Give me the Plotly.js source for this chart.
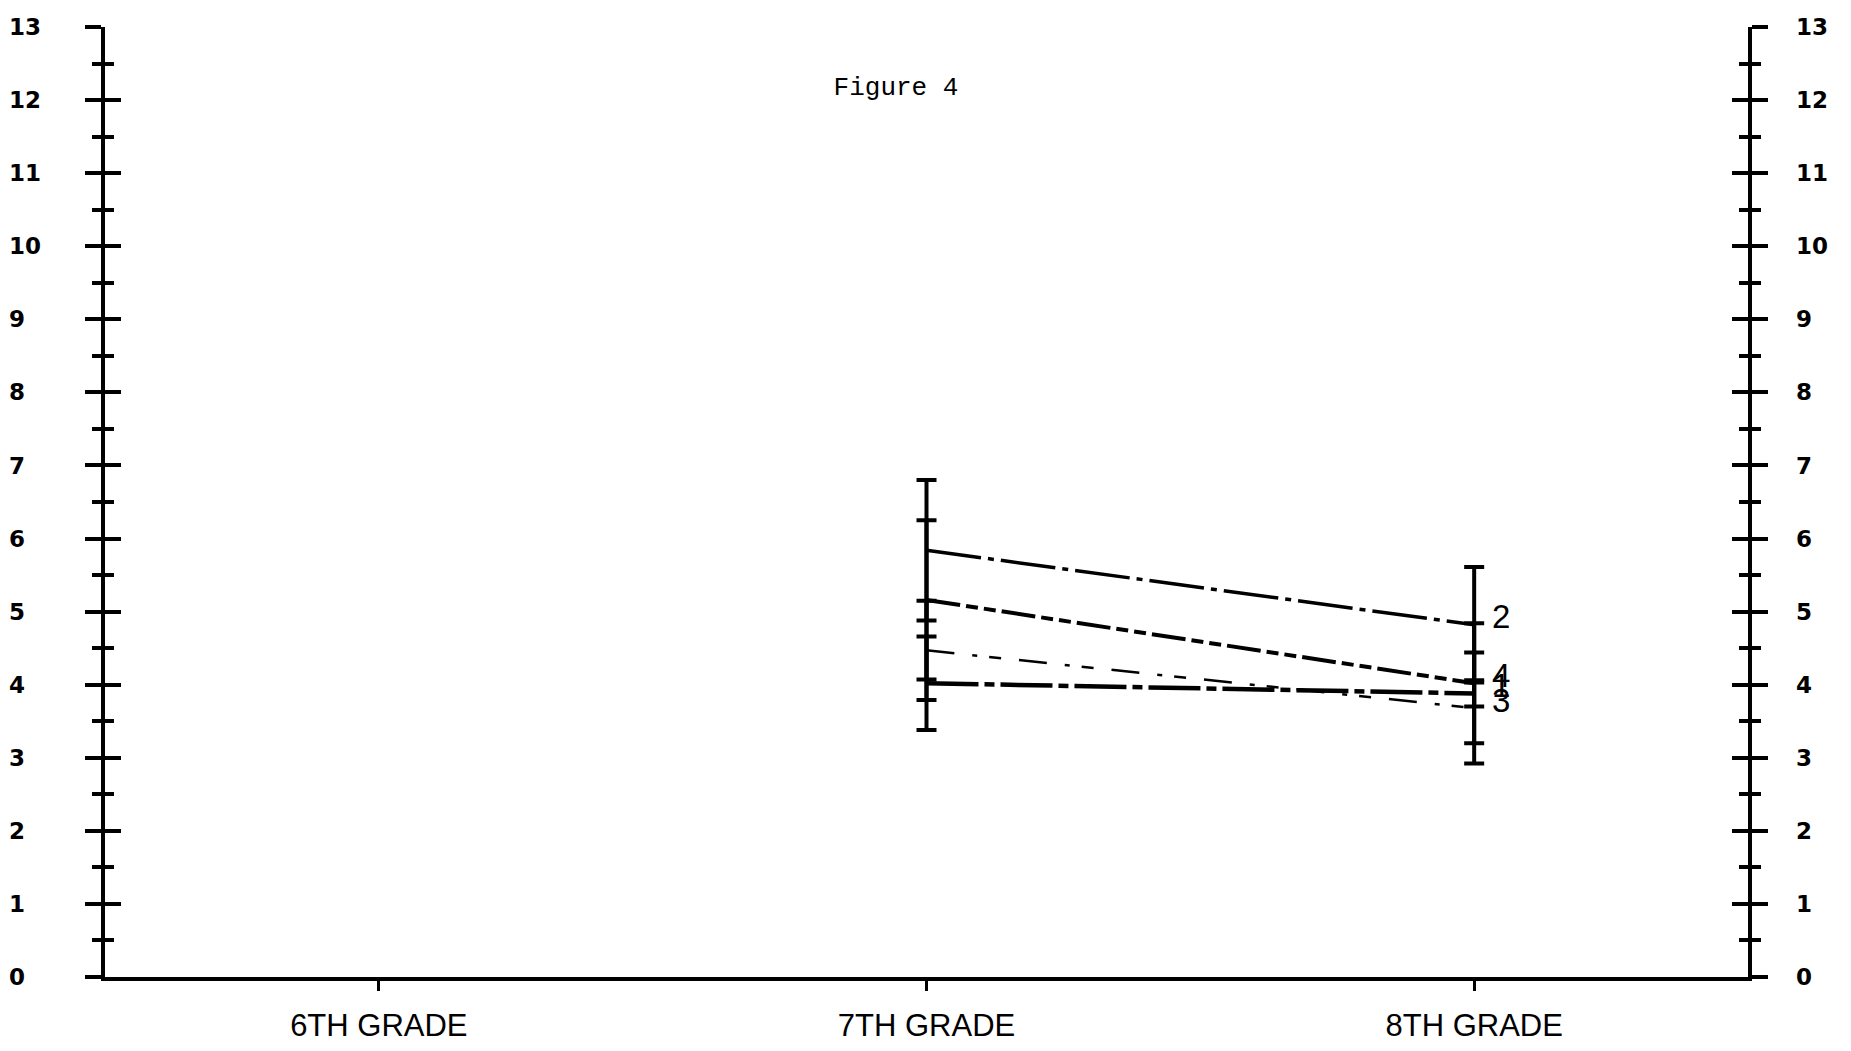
<!DOCTYPE html>
<html>
<head>
<meta charset="utf-8">
<script src="https://cdn.plot.ly/plotly-3.0.1.min.js"></script>
<style>
  html, body { margin: 0; padding: 0; background: #ffffff; }
  #chart { width: 1851px; height: 1051px; }
</style>
</head>
<body>
<div id="chart"></div>
<script>
// ---- data ----
const grades = ["6TH GRADE", "7TH GRADE", "8TH GRADE"];
const seriesLabels = ["2", "4", "1", "3"];
const series2 = [null, 5.84, 4.82];
const error2 = [null, 0.96, 0.79];
const series4 = [null, 5.16, 4.02];
const error4 = [null, 1.09, 0.82];
const series1 = [null, 4.02, 3.88];
const error1 = [null, 0.64, 0.18];
const series3 = [null, 4.47, 3.68];
const error3 = [null, 0.68, 0.76];
const yTickValues = [0, 1, 2, 3, 4, 5, 6, 7, 8, 9, 10, 11, 12, 13];
const figureTitle = "Figure 4";

// ---- styles ----
const allSeries = [series2, series4, series1, series3];
const allErrors = [error2, error4, error1, error3];
const dashes = ["55px,7px,6px,7px", "34px,6px,12px,6px,12px,6px", "52px,6px,10px,6px", "28px,18px,5px,12px,12px,18px"];
const widths = [3.5, 4, 4.5, 2.5];

const traces = allSeries.map((vals, i) => ({
  type: "scatter",
  mode: "lines",
  x: grades,
  y: vals,
  name: seriesLabels[i],
  line: { color: "#000", width: widths[i], dash: dashes[i] },
  error_y: { type: "data", array: allErrors[i], symmetric: true, visible: true,
             color: "#000", thickness: 4, width: 10 },
  hoverinfo: "skip",
  showlegend: false,
  xaxis: "x", yaxis: "y"
}));
// empty traces so that every overlay axis gets drawn
["y2", "y3", "y4", "y5", "y6"].forEach(ya => traces.push({
  type: "scatter", mode: "lines", x: [], y: [], xaxis: "x", yaxis: ya,
  showlegend: false, hoverinfo: "skip"
}));
traces.push({ type: "scatter", mode: "lines", x: [], y: [], xaxis: "x2", yaxis: "y",
  showlegend: false, hoverinfo: "skip" });

const W = 1851, H = 1051;
const xDomain = [105 / W, 1748 / W];
const yRange = [0, 13];

const tickAxisBase = {
  range: yRange, dtick: 1, tick0: 0, showgrid: false, zeroline: false,
  showticklabels: false, ticklen: 16, tickwidth: 4, tickcolor: "#000",
  fixedrange: true
};
const minorOut = { ticks: "outside", ticklen: 9, tickwidth: 4, tickcolor: "#000", dtick: 0.5, tick0: 0, showgrid: false };
const minorIn = Object.assign({}, minorOut, { ticks: "inside" });
const labelFont = { family: "DejaVu Sans, Liberation Sans, sans-serif", size: 23, color: "#000", weight: 700 };

const labelAxisBase = {
  range: yRange, tickmode: "array", tickvals: yTickValues, ticks: "", ticklen: 0,
  showline: false, showgrid: false, zeroline: false, showticklabels: true,
  tickfont: labelFont, overlaying: "y", side: "right", anchor: "free", fixedrange: true
};

const annotations = allSeries.map((vals, i) => ({
  x: grades[2], y: vals[2], xref: "x", yref: "y",
  text: seriesLabels[i], showarrow: false, xanchor: "left", yanchor: "middle",
  xshift: 16, yshift: 8, font: { family: "Liberation Sans, Arial, sans-serif", size: 33, color: "#000" }
}));

const layout = {
  width: W, height: H,
  margin: { l: 0, r: 0, t: 27, b: 74, pad: 0 },
  paper_bgcolor: "#fff", plot_bgcolor: "#fff",
  showlegend: false,
  title: { text: figureTitle, x: 896 / W, xref: "container", xanchor: "center",
           y: 1 - 86 / H, yref: "container", yanchor: "middle",
           font: { family: "Liberation Mono, Courier New, monospace", size: 26, color: "#000" } },
  xaxis: {
    type: "category", range: [-0.5, 2.5], domain: xDomain, anchor: "y",
    showline: true, linewidth: 4, linecolor: "#000",
    ticks: "outside", ticklen: 10, tickwidth: 3, tickcolor: "#000",
    showgrid: false, zeroline: false,
    tickfont: { family: "Liberation Sans, Arial, sans-serif", size: 31, color: "#000" },
    ticklabelstandoff: 8, fixedrange: true
  },
  xaxis2: {
    type: "category", range: [-0.5, 2.5], domain: xDomain, anchor: "y", overlaying: "x",
    showline: false, ticks: "inside", ticklen: 10, tickwidth: 3, tickcolor: "#000",
    showticklabels: false, showgrid: false, zeroline: false, fixedrange: true
  },
  yaxis: Object.assign({}, tickAxisBase, {
    side: "left", anchor: "x", showline: true, linewidth: 4, linecolor: "#000",
    ticks: "outside", minor: minorOut
  }),
  yaxis2: Object.assign({}, tickAxisBase, {
    overlaying: "y", side: "left", anchor: "x", showline: false,
    ticks: "inside", minor: minorIn
  }),
  yaxis3: Object.assign({}, tickAxisBase, {
    overlaying: "y", side: "right", anchor: "x", showline: true, linewidth: 4, linecolor: "#000",
    ticks: "outside", minor: minorOut
  }),
  yaxis4: Object.assign({}, tickAxisBase, {
    overlaying: "y", side: "right", anchor: "x", showline: false,
    ticks: "inside", minor: minorIn
  }),
  yaxis5: Object.assign({}, labelAxisBase, { position: 0, ticklabelstandoff: 8 }),
  yaxis6: Object.assign({}, labelAxisBase, { position: 1792 / W, ticklabelstandoff: 3 }),
  annotations: annotations
};

Plotly.newPlot("chart", traces, layout, { staticPlot: true, displayModeBar: false });
</script>
</body>
</html>
